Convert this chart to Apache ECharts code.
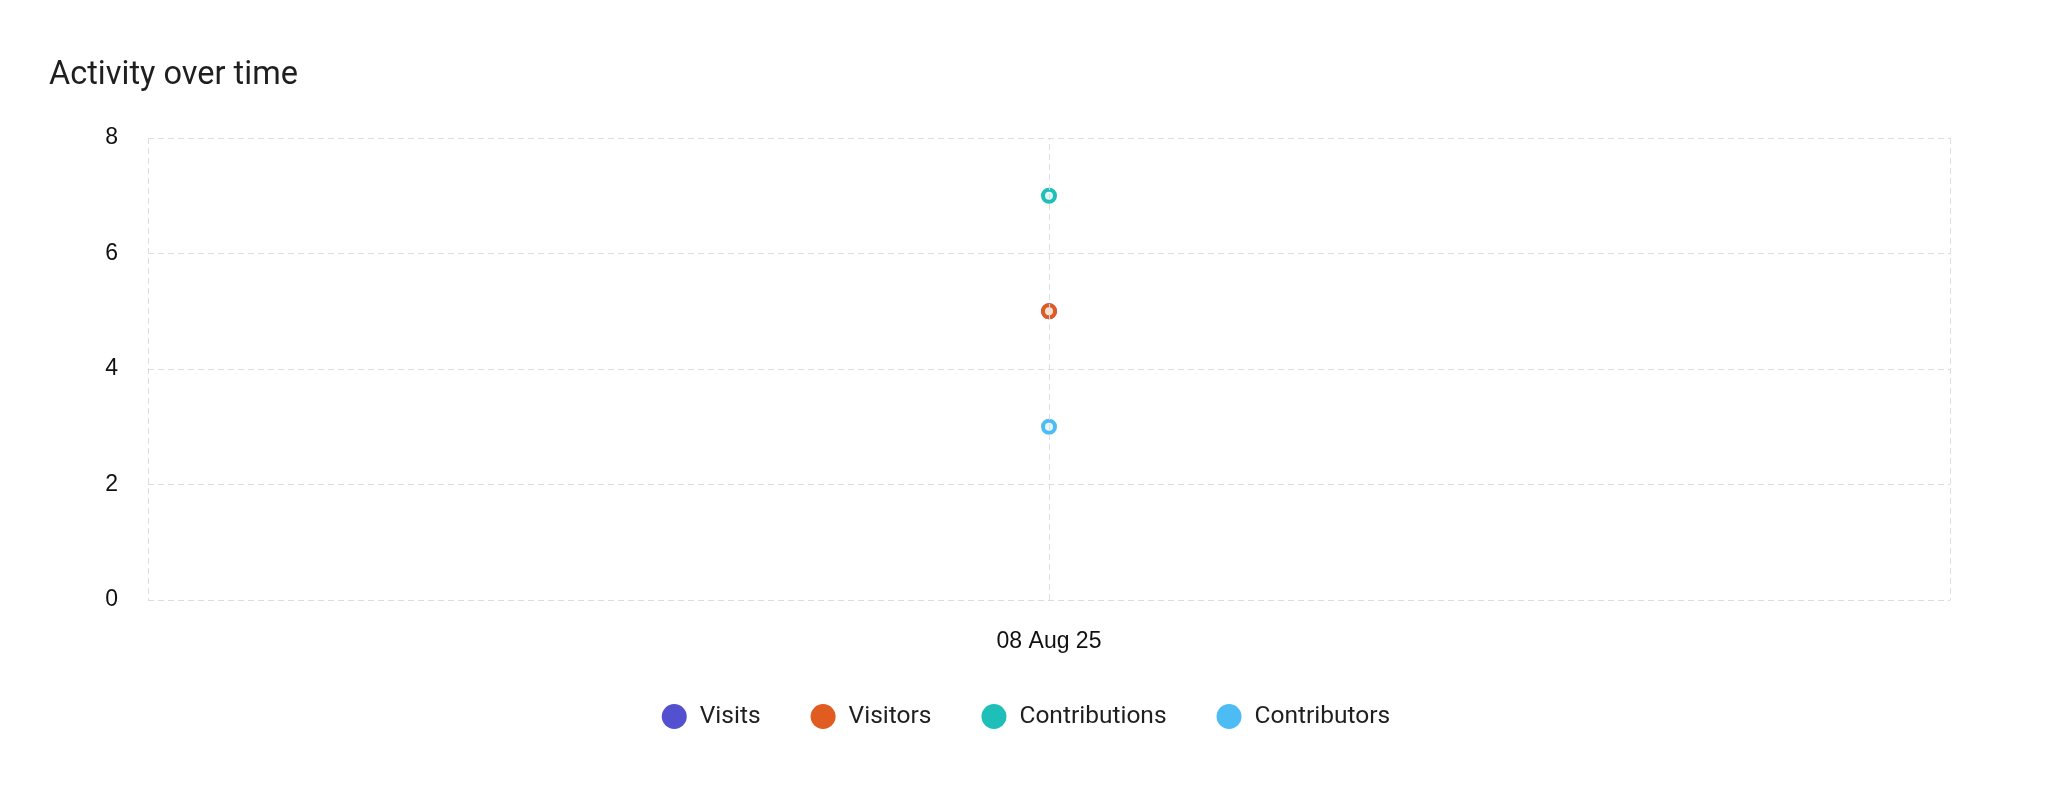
<!DOCTYPE html>
<html>
<head>
<meta charset="utf-8">
<title>Activity over time</title>
<script src="https://cdn.jsdelivr.net/npm/echarts@6/dist/echarts.min.js"></script>
<style>
  html, body { margin: 0; padding: 0; background: #fff; }
  #chart { width: 2052px; height: 800px; }
</style>
</head>
<body>
<div id="chart"></div>
<script>
// data
const dates = ["08 Aug 25"];
const visits = [5];
const visitors = [5];
const contributions = [7];
const contributors = [3];
const yTicks = { min: 0, max: 8, interval: 2 };

const seriesNames = ["Visits", "Visitors", "Contributions", "Contributors"];
const seriesColors = ["#5351cf", "#e05c20", "#1fbfb9", "#4dbcf4"];
const seriesFills = ["#eeeefa", "#f6e2dc", "#e4f7f6", "#e8f6fe"];

const gridLine = { color: "#dddddd", width: 1, type: [6, 4] };
const axisFont = "'Liberation Sans', Arial, sans-serif";

const chart = echarts.init(document.getElementById("chart"));

const makeSeries = (i, data, z) => ({
  name: seriesNames[i],
  type: "line",
  data: data,
  z: z,
  symbol: "circle",
  symbolSize: 12,
  itemStyle: { color: seriesFills[i], borderColor: seriesColors[i], borderWidth: 4 },
  lineStyle: { color: seriesColors[i], width: 2 },
});

const visitsSeries = makeSeries(0, visits, 2);
// vertical dashed line through the single date
visitsSeries.markLine = {
  silent: true,
  symbol: "none",
  label: { show: false },
  lineStyle: gridLine,
  data: [{ xAxis: dates[0] }],
};

chart.setOption({
  animation: false,
  title: {
    text: "Activity over time",
    left: 44,
    top: 54,
    textStyle: { fontFamily: "Roboto", fontSize: 32.5, fontWeight: "normal", color: "#1f1f1f" },
  },
  grid: { left: 148, right: 102, top: 138, bottom: 200 },
  legend: {
    bottom: 66,
    left: "center",
    icon: "circle",
    itemWidth: 25,
    itemHeight: 25,
    itemGap: 50,
    textStyle: { fontFamily: "Roboto", fontSize: 24.5, color: "#1f1f1f", padding: [0, 0, 0, 8] },
    data: seriesNames.map((name, i) => ({ name: name, itemStyle: { color: seriesColors[i], borderWidth: 0 } })),
  },
  xAxis: {
    type: "category",
    data: dates,
    boundaryGap: true,
    axisLine: { show: false },
    axisTick: { show: false },
    axisLabel: { fontFamily: axisFont, fontSize: 23, color: "#111", margin: 30 },
    splitLine: { show: true, lineStyle: gridLine },
  },
  yAxis: {
    type: "value",
    min: yTicks.min,
    max: yTicks.max,
    interval: yTicks.interval,
    axisLine: { show: false },
    axisTick: { show: false },
    axisLabel: { fontFamily: axisFont, fontSize: 23, color: "#111", margin: 30, padding: [0, 0, 6, 0] },
    splitLine: { show: true, lineStyle: gridLine },
  },
  series: [
    visitsSeries,
    makeSeries(1, visitors, 3),
    makeSeries(2, contributions, 3),
    makeSeries(3, contributors, 3),
  ],
});

window.addEventListener("resize", () => chart.resize());
</script>
</body>
</html>
